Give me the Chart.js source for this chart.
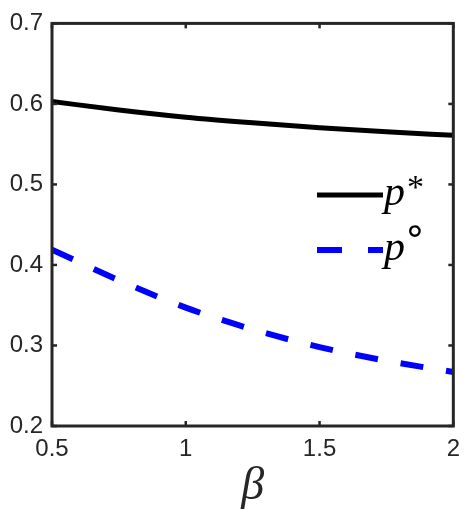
<!DOCTYPE html>
<html><head><meta charset="utf-8">
<script src="https://cdn.jsdelivr.net/npm/chart.js@4/dist/chart.umd.min.js"></script>
<style>html,body{margin:0;padding:0;background:#fff}#wrap{width:469px;height:515px}</style>
</head><body><div id="wrap"><canvas id="c" width="469" height="515"></canvas></div>
<script>
const betaValues = [0.5, 0.75, 1, 1.25, 1.5, 1.75, 2];
const pStar = [0.603, 0.5925, 0.5835, 0.5765, 0.5705, 0.5655, 0.561];
const pCirc = [0.419, 0.381, 0.347, 0.320, 0.298, 0.281, 0.267];
const xTicks = [0.5, 1, 1.5, 2];
const yTicks = [0.2, 0.3, 0.4, 0.5, 0.6, 0.7];
const seriesNames = ['p', 'p'];
const seriesSups = ['*', '\u2218'];

const AX = '#262626';
const SERIF = '"Liberation Serif", "Times New Roman", "DejaVu Serif", serif';
const boxPlugin = {
  id: 'box',
  afterDatasetsDraw(chart) {
    const {ctx, chartArea: a, scales: {x, y}} = chart;
    ctx.save();
    ctx.strokeStyle = AX; ctx.lineWidth = 3;
    ctx.strokeRect(a.left, a.top, a.right - a.left, a.bottom - a.top);
    ctx.lineWidth = 2.5;
    xTicks.forEach(v => {
      const px = x.getPixelForValue(v);
      ctx.beginPath(); ctx.moveTo(px, a.bottom); ctx.lineTo(px, a.bottom - 5); ctx.stroke();
      ctx.beginPath(); ctx.moveTo(px, a.top); ctx.lineTo(px, a.top + 5); ctx.stroke();
    });
    yTicks.forEach(v => {
      const py = y.getPixelForValue(v);
      ctx.beginPath(); ctx.moveTo(a.left, py); ctx.lineTo(a.left + 5, py); ctx.stroke();
      ctx.beginPath(); ctx.moveTo(a.right, py); ctx.lineTo(a.right - 5, py); ctx.stroke();
    });
    // legend
    const items = [
      {y: 195, color: '#000', dash: [], w: 5},
      {y: 250, color: '#0000ff', dash: [25, 26], w: 6}
    ];
    items.forEach((it, i) => {
      ctx.save();
      ctx.strokeStyle = it.color; ctx.lineWidth = it.w; ctx.setLineDash(it.dash); ctx.lineCap = 'butt';
      ctx.beginPath(); ctx.moveTo(317, it.y); ctx.lineTo(383, it.y); ctx.stroke();
      ctx.restore();
      ctx.fillStyle = '#000';
      ctx.textBaseline = 'alphabetic'; ctx.textAlign = 'left';
      ctx.font = 'italic 42px ' + SERIF;
      ctx.fillText(seriesNames[i], 384, it.y + 10);
      ctx.font = (i === 0 ? '34px ' + SERIF : '38px "DejaVu Sans"');
      ctx.fillText(seriesSups[i], i === 0 ? 407 : 403, it.y + (i === 0 ? 3 : -7));
    });
    ctx.restore();
  }
};

new Chart(document.getElementById('c'), {
  type: 'line',
  data: {
    datasets: [
      {label: 'p*', data: betaValues.map((b, i) => ({x: b, y: pStar[i]})), borderColor: '#000', borderWidth: 5, pointRadius: 0, cubicInterpolationMode: 'monotone', fill: false},
      {label: 'p°', data: betaValues.map((b, i) => ({x: b, y: pCirc[i]})), borderColor: '#0000ff', borderWidth: 6, borderDash: [23, 23], borderCapStyle: 'butt', pointRadius: 0, cubicInterpolationMode: 'monotone', fill: false}
    ]
  },
  options: {
    responsive: false, animation: false, devicePixelRatio: 1,
    layout: {padding: {left: 0, top: 20, right: 12, bottom: 0}},
    plugins: {legend: {display: false}, tooltip: {enabled: false}},
    scales: {
      x: {
        type: 'linear', min: 0.5, max: 2,
        afterBuildTicks: s => { s.ticks = xTicks.map(v => ({value: v})); },
        afterFit: s => { s.height = 89; },
        grid: {display: false, drawTicks: false},
        border: {display: false},
        ticks: {color: '#262626', font: {family: '"Liberation Sans", Arial, sans-serif', size: 24}, padding: 9, maxRotation: 0, autoSkip: false, callback: v => String(v)},
        title: {display: true, text: 'β', color: '#262626', font: {family: SERIF, style: 'italic', size: 46}, padding: {top: 0, bottom: 0}}
      },
      y: {
        type: 'linear', min: 0.2, max: 0.7,
        afterBuildTicks: s => { s.ticks = yTicks.map(v => ({value: v})); },
        afterFit: s => { s.width = 52; },
        grid: {display: false, drawTicks: false},
        border: {display: false},
        ticks: {color: '#262626', font: {family: '"Liberation Sans", Arial, sans-serif', size: 24}, padding: 9, autoSkip: false, callback: v => v.toFixed(1)}
      }
    }
  },
  plugins: [boxPlugin]
});
</script></body></html>
